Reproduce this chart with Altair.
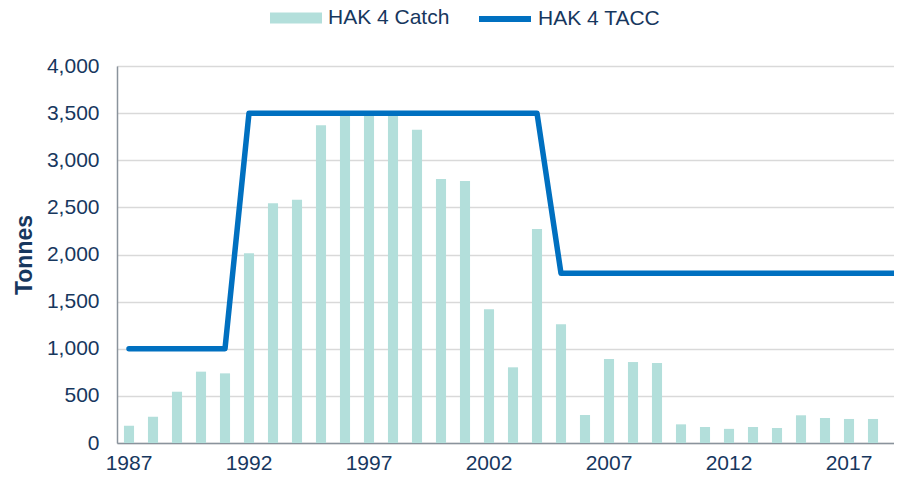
import altair as alt
import pandas as pd

# ---- data ----
years = [1987, 1988, 1989, 1990, 1991, 1992, 1993, 1994, 1995, 1996, 1997,
         1998, 1999, 2000, 2001, 2002, 2003, 2004, 2005, 2006, 2007, 2008,
         2009, 2010, 2011, 2012, 2013, 2014, 2015, 2016, 2017, 2018, 2019]
catch_years = years[:-1]
catch = [183, 279, 544, 757, 739, 2013, 2543, 2582, 3371, 3490, 3480, 3490,
         3323, 2801, 2780, 1418, 803, 2271, 1259, 297, 891, 859, 849, 198,
         170, 150, 170, 159, 294, 265, 255, 255]
tacc = [1000, 1000, 1000, 1000, 1000, 3500, 3500, 3500, 3500, 3500, 3500,
        3500, 3500, 3500, 3500, 3500, 3500, 3500, 1800, 1800, 1800, 1800,
        1800, 1800, 1800, 1800, 1800, 1800, 1800, 1800, 1800, 1800, 1800]
x_tick_labels = [1987, 1992, 1997, 2002, 2007, 2012, 2017]
y_ticks = [0, 500, 1000, 1500, 2000, 2500, 3000, 3500, 4000]

bar_df = pd.DataFrame({"Year": catch_years, "Tonnes": catch, "Series": "HAK 4 Catch"})
line_df = pd.DataFrame({"Year": years, "Tonnes": tacc, "Series": "HAK 4 TACC"})

TEXT = "#17375E"
FONT = "Liberation Sans"
AXIS_GREY = "#8A939C"

x_enc = alt.X(
    "Year:O",
    scale=alt.Scale(domain=years, range=[0, 792], paddingInner=0.58, paddingOuter=0.29),
    axis=alt.Axis(values=x_tick_labels, labelAngle=0, title=None, ticks=False,
                  grid=False, labelFontSize=21, labelColor=TEXT, labelFont=FONT,
                  labelPadding=9, domainColor=AXIS_GREY, domainWidth=1.5),
)
y_enc = alt.Y(
    "Tonnes:Q",
    scale=alt.Scale(domain=[0, 4000], nice=False),
    axis=alt.Axis(values=y_ticks, format=",.0f", title="Tonnes", ticks=False,
                  labelFontSize=21, labelColor=TEXT, labelFont=FONT,
                  labelPadding=18, titleFontSize=23, titleFont=FONT,
                  titleFontWeight="bold", titleColor=TEXT, titlePadding=10,
                  gridColor="#D9D9D9", gridWidth=1.3,
                  domainColor=AXIS_GREY, domainWidth=1.5),
)

bars = alt.Chart(bar_df).mark_bar().encode(
    x=x_enc,
    y=y_enc,
    color=alt.Color(
        "Series:N",
        scale=alt.Scale(domain=["HAK 4 Catch"], range=["#B3DFDB"]),
        legend=alt.Legend(title=None, orient="none", legendX=153, legendY=-74,
                          symbolType="M-1,-0.21H1V0.21H-1Z", symbolSize=2704,
                          symbolStrokeWidth=0, labelFontSize=21, labelColor=TEXT,
                          labelFont=FONT, labelOffset=6, padding=0),
    ),
)

line = alt.Chart(line_df).mark_line(strokeWidth=5.5, strokeCap="round", strokeJoin="round").encode(
    x=x_enc,
    y=y_enc,
    stroke=alt.Stroke(
        "Series:N",
        scale=alt.Scale(domain=["HAK 4 TACC"], range=["#0070C0"]),
        legend=alt.Legend(title=None, orient="none", legendX=359, legendY=-76,
                          symbolType="stroke", symbolSize=2704, symbolStrokeWidth=6,
                          labelFontSize=21, labelColor=TEXT, labelFont=FONT,
                          labelOffset=4, padding=0),
    ),
)

chart = alt.layer(bars, line).resolve_scale(color="independent").properties(
    width=777,
    height=377,
    autosize=alt.AutoSizeParams(type="none"),
    padding={"left": 109, "top": 58, "right": 0, "bottom": 31},
).configure_view(stroke=None).configure(font=FONT).configure_axis(
    labelFontSize=21, titleFontSize=23
)

chart.save("out.html", embed_options={"renderer": "svg", "actions": False})
